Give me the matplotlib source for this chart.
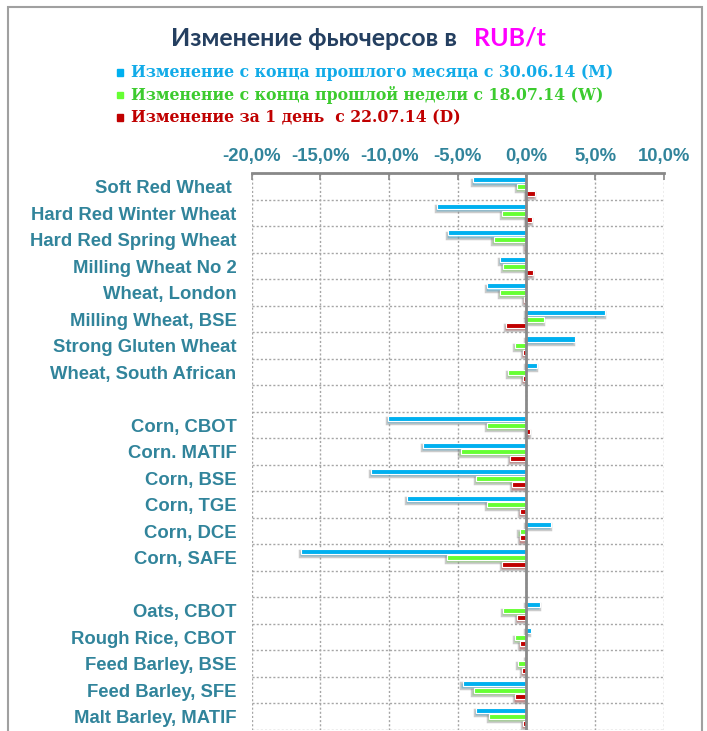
import numpy as np
import matplotlib
matplotlib.use("Agg")
import matplotlib.pyplot as plt
import matplotlib.patheffects as pe
from matplotlib.patches import Rectangle

# categories, top to bottom ('' = empty separator row)
categories = [
    "Soft Red Wheat ", "Hard Red Winter Wheat", "Hard Red Spring Wheat",
    "Milling Wheat No 2", "Wheat, London", "Milling Wheat, BSE",
    "Strong Gluten Wheat", "Wheat, South African", "",
    "Corn, CBOT", "Corn. MATIF", "Corn, BSE", "Corn, TGE", "Corn, DCE",
    "Corn, SAFE", "",
    "Oats, CBOT", "Rough Rice, CBOT", "Feed Barley, BSE", "Feed Barley, SFE",
    "Malt Barley, MATIF",
]

nan = np.nan
# change since end of last month, % (M)
month_chg = [-3.9, -6.5, -5.7, -1.9, -2.9, 5.7, 3.5, 0.75, nan,
             -10.1, -7.5, -11.3, -8.7, 1.8, -16.4, nan,
             1.0, 0.3, -0.05, -4.65, -3.65]
# change since end of last week, % (W)
week_chg = [-0.7, -1.75, -2.4, -1.7, -1.9, 1.25, -0.8, -1.35, nan,
            -2.9, -4.8, -3.7, -2.9, -0.5, -5.8, nan,
            -1.7, -0.85, -0.6, -3.85, -2.75]
# 1-day change, % (D)
day_chg = [0.65, 0.4, -0.12, 0.45, -0.17, -1.5, -0.22, -0.27, nan,
           0.24, -1.2, -1.05, -0.45, -0.45, -1.75, nan,
           -0.7, -0.45, -0.3, -0.85, -0.27]

series = [
    (month_chg, "#00B0F0", "Изменение с конца прошлого месяца с 30.06.14 (M)", "#12ABE8"),
    (week_chg, "#66FF33", "Изменение с конца прошлой недели с 18.07.14 (W)", "#3CCB2E"),
    (day_chg, "#C00000", "Изменение за 1 день  с 22.07.14 (D)", "#C00000"),
]

xticks = [-20, -15, -10, -5, 0, 5, 10]

label_color = "#31849B"
grid_color = "#A6A6A6"

fig = plt.figure(figsize=(7.07, 7.31), dpi=100)
ax = fig.add_axes([0.356, 0.0014, 0.583, 0.7615])

y = np.arange(len(categories))
shadow = [pe.Stroke(linewidth=2.5, foreground="#8c8c8c", alpha=0.45, offset=(-0.8, -1.6)),
          pe.Normal()]
for i, (vals, color, _, _) in enumerate(series):
    bars = ax.barh(y + (i - 1) * 0.25, vals, height=0.19, color=color,
                   edgecolor="white", linewidth=0.8, zorder=3)
    for b in bars:
        b.set_path_effects(shadow)

ax.set_xlim(-20, 10)
ax.set_ylim(len(categories) - 0.5, -0.5)
ax.set_xticks(xticks)
ax.set_xticklabels([f"{v:.1f}%".replace(".", ",") for v in xticks])
ax.set_yticks(y)
ax.set_yticklabels(categories)
ax.set_yticks(np.arange(len(categories) + 1) - 0.5, minor=True)

ax.xaxis.tick_top()
ax.tick_params(axis="x", which="major", direction="in", length=5, width=1.2,
               color="#888888", labelsize=13.3, labelcolor=label_color, pad=6)
ax.tick_params(axis="y", which="both", length=0, labelsize=13.3, labelcolor=label_color, pad=11)
for lab in ax.get_xticklabels() + ax.get_yticklabels():
    lab.set_fontfamily("Liberation Sans")
    lab.set_fontweight("bold")

ax.grid(axis="x", which="major", linestyle=(0, (1.5, 1.5)), color=grid_color, linewidth=1, zorder=0)
ax.grid(axis="y", which="minor", linestyle=(0, (1.5, 1.5)), color=grid_color, linewidth=1, zorder=0)
ax.grid(axis="y", which="major", visible=False)
ax.axvline(0, color="#8a8a8a", linewidth=2, zorder=4)

for s in ["left", "right", "bottom"]:
    ax.spines[s].set_visible(False)
ax.spines["top"].set_color("#888888")
ax.spines["top"].set_linewidth(2)

# chart frame
fig.patches.append(Rectangle((8 / 707, -0.01), 694 / 707, 1 - 6.5 / 731 + 0.01,
                             transform=fig.transFigure, fill=False,
                             edgecolor="#A0A0A0", linewidth=1.5))

# title
ty = 1 - 38 / 731
fig.text(457 / 707, ty, "Изменение фьючерсов в", ha="right", va="center",
         fontsize=18, fontweight="bold", color="#243F60", family="Lato")
fig.text(474 / 707, ty, "RUB/t", ha="left", va="center",
         fontsize=18, fontweight="bold", color="#FF00FF", family="Lato")

# legend
for i, (_, color, text, tcolor) in enumerate(series):
    yc = 1 - (72.5 + i * 22.5) / 731
    fig.patches.append(Rectangle((117 / 707, yc - 3 / 731), 6 / 707, 6 / 731,
                                 transform=fig.transFigure, color=color))
    fig.text(131 / 707, yc, text, ha="left", va="center", fontsize=11.3,
             fontweight="bold", color=tcolor, family="DejaVu Serif")

fig.savefig("out.png", dpi=100)
